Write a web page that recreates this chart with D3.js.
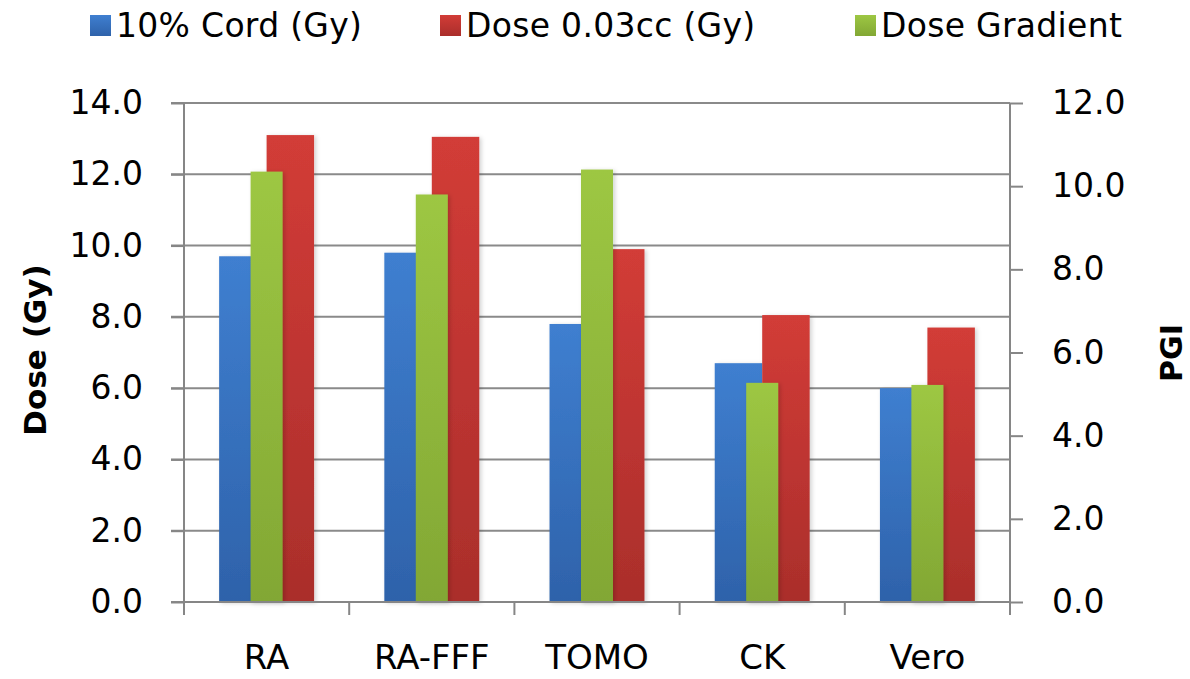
<!DOCTYPE html>
<html lang="en">
  <head>
    <meta charset="utf-8" />
    <script src="https://d3js.org/d3.v7.min.js"></script>
    <style>
      body { margin: 0; background: #fff; }
      text { font-family: "DejaVu Sans", sans-serif; fill: #000; }
    </style>
  </head>
  <body>
    <script>
      // data
      let categories = ["RA", "RA-FFF", "TOMO", "CK", "Vero"];
      let cordDose = [9.7, 9.8, 7.8, 6.7, 6.0];       // left axis
      let dose003cc = [13.1, 13.05, 9.9, 8.05, 7.7];  // left axis
      let pgi = [10.35, 9.8, 10.4, 5.27, 5.22];       // right axis
      let leftTicks = [0, 2, 4, 6, 8, 10, 12, 14];
      let rightTicks = [0, 2, 4, 6, 8, 10, 12];

      let w = 1190;
      let h = 679;
      let pLeft = 184, pRight = 1010, pTop = 103, pBottom = 602;

      let svg = d3.select("body").append("svg")
        .attr("width", w).attr("height", h);

      let defs = svg.append("defs");
      function grad(id, c1, c2) {
        let g = defs.append("linearGradient").attr("id", id)
          .attr("x1", 0).attr("x2", 0).attr("y1", 0).attr("y2", 1);
        g.append("stop").attr("offset", "0%").attr("stop-color", c1);
        g.append("stop").attr("offset", "100%").attr("stop-color", c2);
      }
      grad("gBlue", "#3f7fd0", "#2e62aa");
      grad("gRed", "#d23c37", "#aa2e2b");
      grad("gGreen", "#9dc743", "#82a734");

      // soft shadow like the excel bars
      defs.append("filter").attr("id", "shadow")
        .attr("x", "-20%").attr("y", "-5%").attr("width", "150%").attr("height", "120%")
        .append("feDropShadow").attr("dx", 2).attr("dy", 1)
        .attr("stdDeviation", 2).attr("flood-color", "#000")
        .attr("flood-opacity", 0.18);

      let x0 = d3.scaleBand().domain(categories).range([pLeft, pRight]);
      let xPrim = d3.scaleBand().domain(["cord", "dose"])
        .range([0, x0.bandwidth()]).paddingOuter(0.74);
      let xSec = d3.scaleBand().domain(["pgi"])
        .range([0, x0.bandwidth()]).paddingOuter(2.08);

      let yL = d3.scaleLinear().domain([0, 14]).range([pBottom, pTop]);
      let yR = d3.scaleLinear().domain([0, 12]).range([pBottom, pTop]);

      // gridlines (with outside ticks on the left)
      svg.append("g").selectAll("line").data(leftTicks).join("line")
        .attr("x1", pLeft - 13).attr("x2", pRight)
        .attr("y1", d => yL(d)).attr("y2", d => yL(d))
        .attr("stroke", "#8a8a8a").attr("stroke-width", 2);

      // bars
      let series = [
        { key: "cord", vals: cordDose, fill: "url(#gBlue)", x: xPrim, y: yL },
        { key: "dose", vals: dose003cc, fill: "url(#gRed)", x: xPrim, y: yL },
        { key: "pgi", vals: pgi, fill: "url(#gGreen)", x: xSec, y: yR },
      ];
      series.forEach(s => {
        svg.append("g").selectAll("rect")
          .data(s.vals).join("rect")
          .attr("x", (d, i) => x0(categories[i]) + s.x(s.key))
          .attr("width", s.x.bandwidth())
          .attr("y", d => s.y(d))
          .attr("height", d => pBottom - s.y(d))
          .attr("fill", s.fill)
          .attr("filter", "url(#shadow)");
      });

      // axes
      let axisColor = "#868686";
      let gl = svg.append("g").attr("transform", `translate(${pLeft},0)`)
        .call(d3.axisLeft(yL).tickValues(leftTicks).tickSize(13)
          .tickFormat(d3.format(".1f")).tickPadding(28));
      let gr = svg.append("g").attr("transform", `translate(${pRight},0)`)
        .call(d3.axisRight(yR).tickValues(rightTicks).tickSize(13)
          .tickFormat(d3.format(".1f")).tickPadding(29));
      let gx = svg.append("g").attr("transform", `translate(0,${pBottom})`)
        .call(d3.axisBottom(x0).tickSize(0).tickPadding(43));

      [gl, gr, gx].forEach(g => {
        g.select(".domain").attr("stroke", axisColor).attr("stroke-width", 2);
        g.selectAll(".tick line").attr("stroke", axisColor).attr("stroke-width", 2);
        g.selectAll("text").style("font-size", "33px").attr("fill", "#000")
          .style("font-family", "'DejaVu Sans', sans-serif");
      });
      gx.selectAll("text").style("font-size", "34px");
      gx.select(".domain").attr("d", `M${pLeft},0H${pRight}`);
      gl.select(".domain").attr("d", `M0,${pTop}V${pBottom}`);
      gr.select(".domain").attr("d", `M0,${pTop}V${pBottom}`);

      // category boundary ticks
      svg.append("g").selectAll("line")
        .data(categories.concat(["end"])).join("line")
        .attr("x1", (d, i) => pLeft + i * x0.step())
        .attr("x2", (d, i) => pLeft + i * x0.step())
        .attr("y1", pBottom).attr("y2", pBottom + 13)
        .attr("stroke", axisColor).attr("stroke-width", 2);

      // axis titles
      svg.append("text").attr("transform", "translate(46,350) rotate(-90)")
        .attr("text-anchor", "middle").style("font-size", "31px")
        .style("font-weight", "bold").text("Dose (Gy)");
      svg.append("text").attr("transform", "translate(1182,353) rotate(-90)")
        .attr("text-anchor", "middle").style("font-size", "30px")
        .style("font-weight", "bold").text("PGI");

      // legend
      let legend = [
        { label: "10% Cord (Gy)", fill: "url(#gBlue)", x: 90 },
        { label: "Dose 0.03cc (Gy)", fill: "url(#gRed)", x: 440 },
        { label: "Dose Gradient", fill: "url(#gGreen)", x: 855 },
      ];
      let lg = svg.append("g").selectAll("g").data(legend).join("g")
        .attr("transform", d => `translate(${d.x},0)`);
      lg.append("rect").attr("x", 0).attr("y", 15).attr("width", 21)
        .attr("height", 21).attr("fill", d => d.fill);
      lg.append("text").attr("x", 26).attr("y", 37)
        .style("font-size", "33px").style("letter-spacing", "0.3px")
        .text(d => d.label);
    </script>
  </body>
</html>
